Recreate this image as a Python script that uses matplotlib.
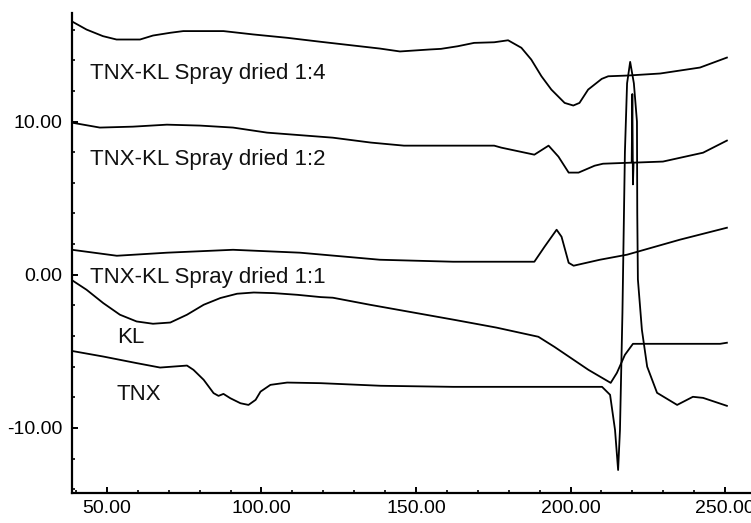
import numpy as np
import matplotlib
matplotlib.use("Agg")
import matplotlib.pyplot as plt
from matplotlib.ticker import MultipleLocator, FormatStrFormatter

# DSC traces (temperature, heat flow)
x_14 = [38.5, 43.4, 48.7, 53.1, 60.7, 64.9, 70.5, 74.7, 87.7, 97.4, 108.4, 119.2,
        138.3, 144.8, 154.5, 158.1, 163.5, 168.8, 175.3, 179.8, 184.1, 187.3,
        190.6, 193.8, 198.1, 200.9, 202.9, 205.7, 210.1, 212.2, 218.7, 229.0,
        241.9, 250.6]
y_14 = [16.56, 16.01, 15.58, 15.36, 15.36, 15.62, 15.80, 15.91, 15.91, 15.69, 15.47, 15.21,
        14.77, 14.58, 14.71, 14.75, 14.92, 15.14, 15.18, 15.31, 14.82, 14.05,
        12.96, 12.09, 11.22, 11.05, 11.22, 12.09, 12.79, 12.96, 13.01, 13.14,
        13.53, 14.18]

x_12 = [38.7, 47.7, 58.4, 69.4, 80.1, 90.8, 101.8, 123.1, 135.4, 146.1, 175.3,
        177.6, 188.3, 192.9, 196.1, 199.4, 202.6, 207.8, 210.5, 219.8, 220.0,
        220.2, 220.4, 229.9, 242.9, 250.6]
y_12 = [9.93, 9.61, 9.67, 9.80, 9.74, 9.61, 9.28, 8.95, 8.63, 8.43, 8.43,
        8.30, 7.84, 8.43, 7.71, 6.67, 6.67, 7.12, 7.25, 7.32, 11.8,
        5.9, 7.32, 7.39, 7.97, 8.76]

x_11 = [38.7, 53.2, 69.4, 90.8, 112.5, 138.3, 162.0, 177.2, 188.3, 191.6, 195.5,
        197.1, 199.4, 201.0, 209.5, 218.3, 235.4, 250.6]
y_11 = [1.63, 1.24, 1.44, 1.63, 1.44, 0.98, 0.85, 0.85, 0.85, 1.83, 2.94,
        2.48, 0.78, 0.59, 0.98, 1.31, 2.29, 3.07]

x_kl = [38.5, 43.4, 48.8, 54.2, 59.6, 64.9, 70.5, 75.9, 81.3, 86.7, 92.1, 97.5,
        104.0, 111.6, 119.2, 123.1, 135.1, 162.3, 176.0, 189.6, 194.8, 205.8,
        213.0, 215.0, 217.6, 220.2, 229.0, 248.4, 250.6]
y_kl = [-0.33, -0.98, -1.85, -2.61, -3.05, -3.20, -3.12, -2.61, -1.96, -1.52, -1.24, -1.16,
        -1.20, -1.31, -1.46, -1.50, -1.96, -2.94, -3.45, -4.05, -4.71, -6.21,
        -7.06, -6.41, -5.23, -4.51, -4.51, -4.51, -4.44]

x_tnx = [38.5, 48.8, 59.6, 67.2, 75.9, 78.0, 81.3, 84.5, 86.1, 87.7, 89.9, 93.2,
         95.8, 98.1, 99.7, 102.9, 108.3, 119.2, 138.6, 162.0, 210.2, 212.8, 214.4,
         215.4, 216.0, 216.8, 217.6, 218.3, 219.3, 220.5, 221.5, 221.6, 221.8,
         223.1, 224.8, 228.0, 234.5, 239.6, 242.9, 250.6]
y_tnx = [-4.97, -5.34, -5.77, -6.06, -5.93, -6.21, -6.86, -7.73, -7.91, -7.78, -8.06, -8.39,
         -8.50, -8.17, -7.63, -7.19, -7.04, -7.08, -7.25, -7.32, -7.32, -7.84, -10.13,
         -12.75, -10.13, -2.48, 8.0, 12.5, 13.9, 12.5, 10.0, 4.0, -0.3,
         -3.6, -6.0, -7.71, -8.50, -7.97, -8.04, -8.56]

labels = ["TNX-KL Spray dried 1:4", "TNX-KL Spray dried 1:2",
          "TNX-KL Spray dried 1:1", "KL", "TNX"]
label_x = [44.5, 44.5, 44.5, 53.2, 53.2]
label_y = [12.75, 7.19, -0.52, -4.44, -8.17]

plt.rcParams['font.family'] = ['Liberation Sans', 'DejaVu Sans']

fig = plt.figure(figsize=(7.51, 5.23), dpi=100)
ax = fig.add_axes([0.0959, 0.0574, 0.9041, 0.918])

for xs, ys in [(x_14, y_14), (x_12, y_12), (x_11, y_11), (x_kl, y_kl), (x_tnx, y_tnx)]:
    ax.plot(xs, ys, color='black', lw=1.3, solid_joinstyle='round')

for t, lx, ly in zip(labels, label_x, label_y):
    ax.text(lx, ly, t, fontsize=16, va='baseline', ha='left', color='#111111')

ax.set_xlim(38.7, 258.4)
ax.set_ylim(-14.25, 17.1)
ax.spines['top'].set_visible(False)
ax.spines['right'].set_visible(False)
ax.spines['left'].set_linewidth(1.6)
ax.spines['bottom'].set_linewidth(1.6)

ax.xaxis.set_major_locator(MultipleLocator(50))
ax.xaxis.set_minor_locator(MultipleLocator(10))
ax.yaxis.set_major_locator(MultipleLocator(10))
ax.yaxis.set_minor_locator(MultipleLocator(2))
ax.xaxis.set_major_formatter(FormatStrFormatter('%.2f'))
ax.yaxis.set_major_formatter(FormatStrFormatter('%.2f'))
ax.tick_params(which='major', direction='in', length=4, width=1.4, labelsize=14, pad=5)
ax.tick_params(which='minor', direction='in', length=2.5, width=1.2)
ax.tick_params(axis='y', which='major', pad=7)

fig.savefig('out.png', dpi=100)
